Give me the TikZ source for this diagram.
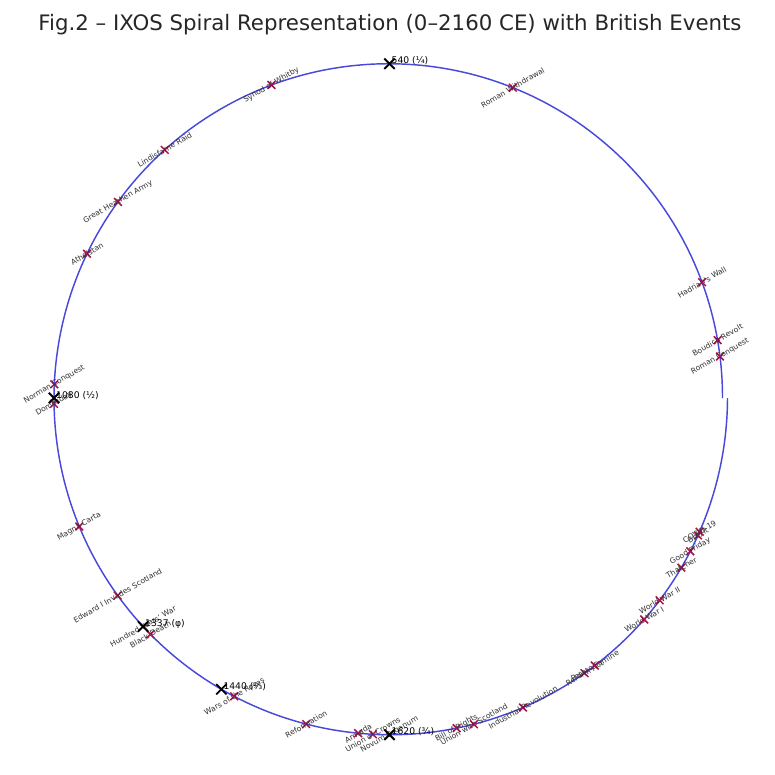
\documentclass[tikz,border=0pt]{standalone}
\usepackage{fontspec}
\setmainfont{DejaVu Sans}
\usetikzlibrary{shapes.misc}
\definecolor{spiralblue}{RGB}{72,72,218}
\definecolor{evred}{RGB}{175,15,75}
\definecolor{evtext}{RGB}{50,50,50}
\tikzset{
  spiralline/.style={draw=spiralblue, line width=1.45pt},
  evmark/.style={draw=evred, cross out, minimum size=6.2pt, inner sep=0pt, line width=1.5pt},
  evlabel/.style={text=evtext, font=\fontsize{7.6}{8}\selectfont, rotate=30, inner sep=0pt},
  keymark/.style={draw=black, cross out, minimum size=8.5pt, inner sep=0pt, line width=1.8pt},
  keylabel/.style={text=black, font=\fontsize{9.2}{10}\selectfont, anchor=base west, inner sep=0pt, xshift=2pt},
  titlestyle/.style={text=black!85, font=\fontsize{21.3}{24}\selectfont, inner sep=0pt}
}
\begin{document}
\begin{tikzpicture}[x=1pt,y=-1pt]
\useasboundingbox (0,0) rectangle (775,775);
\fill[white] (0,0) rectangle (775,775);
\node[titlestyle, anchor=base] (title) at (390,30.5) {Fig.2 – IXOS Spiral Representation (0–2160 CE) with British Events};
% spiral
\draw[spiralline] plot[domain=0:360, samples=400, smooth] ({389.5+(333+5*\x/360)*cos(\x)}, {398-(333+5*\x/360)*sin(\x)});
% events
\foreach \yr/\txt [count=\i] in {
  43/Roman Conquest, 60/Boudica Revolt, 122/Hadrian's Wall, 410/Roman Withdrawal,
  664/Synod of Whitby, 793/Lindisfarne Raid, 865/Great Heathen Army, 927/Athelstan,
  1066/Norman Conquest, 1086/Domesday, 1215/Magna Carta, 1296/Edward I Invades Scotland,
  1337/Hundred Years' War, 1348/Black Death, 1455/Wars of the Roses, 1534/Reformation,
  1588/Armada, 1603/Union of Crowns, 1620/Novum Organum, 1689/Bill of Rights,
  1707/Union with Scotland, 1760/Industrial Revolution, 1832/Reform Act, 1845/Potato Famine,
  1914/World War I, 1939/World War II, 1979/Thatcher, 1998/Good Friday,
  2016/Brexit, 2020/COVID-19}
{
  \node[evmark] (m\i) at ({389.5+(333+5*\yr/2160)*cos(\yr/6)}, {398-(333+5*\yr/2160)*sin(\yr/6)}) {};
  \node[evlabel] (l\i) at (m\i.center) {\txt};
}
% key points
\foreach \yr/\txt [count=\j] in {540/540 (¼), 1080/1080 (½), 1337/1337 (φ), 1440/1440 (⅔), 1620/1620 (¾)}
{
  \node[keymark] (k\j) at ({389.5+(333+5*\yr/2160)*cos(\yr/6)}, {398-(333+5*\yr/2160)*sin(\yr/6)}) {};
  \node[keylabel] (kl\j) at (k\j.center) {\txt};
}
\end{tikzpicture}
\end{document}
